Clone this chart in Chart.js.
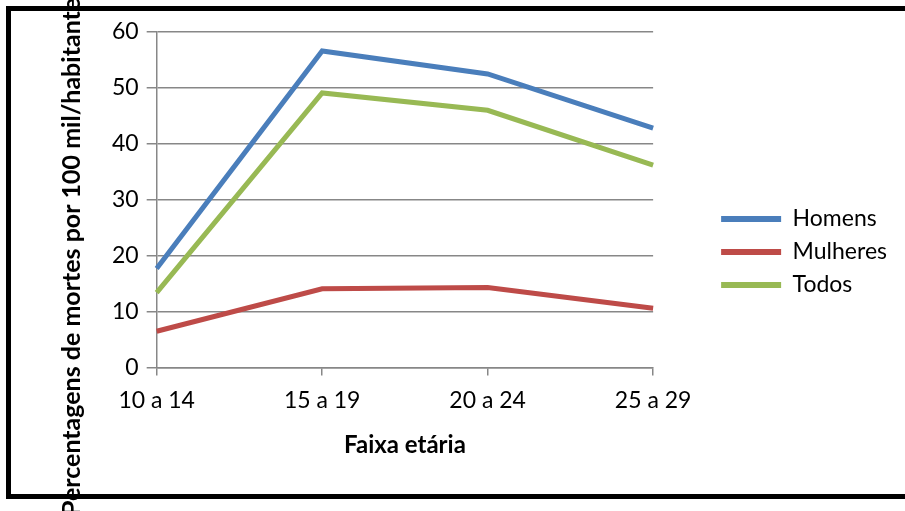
<!DOCTYPE html>
<html>
<head>
<meta charset="utf-8">
<script src="https://cdn.jsdelivr.net/npm/chart.js@4/dist/chart.umd.min.js"></script>
<style>
  html, body { margin: 0; padding: 0; background: #fff; }
  canvas { display: block; }
</style>
</head>
<body>
<canvas id="grafico" width="905" height="511"></canvas>
<script>
// faixas etarias e taxas (mortes por 100 mil habitantes)
var faixas = ['10 a 14', '15 a 19', '20 a 24', '25 a 29'];
var homens = [17.7, 56.6, 52.5, 42.8];
var mulheres = [6.5, 14.1, 14.3, 10.6];
var todos = [13.4, 49.1, 46.0, 36.2];
var yTicks = [0, 10, 20, 30, 40, 50, 60];

var TITULO_Y = 'Percentagens de mortes por 100 mil/habitantes';
var TITULO_X = 'Faixa etária';

var cinza = '#878787';

// moldura preta e titulo vertical do eixo y
var moldura = {
    id: 'moldura',
    afterDraw: function(chart) {
        var ctx = chart.ctx;
        ctx.save();
        ctx.strokeStyle = '#000';
        ctx.lineWidth = 5;
        ctx.strokeRect(8.5, 8.5, 1000, 488);

        ctx.translate(72, 516);
        ctx.rotate(-Math.PI / 2);
        ctx.fillStyle = '#000';
        ctx.font = 'bold 25px Lato';
        ctx.textAlign = 'left';
        ctx.textBaseline = 'middle';
        ctx.fillText(TITULO_Y, 0, 0);
        ctx.restore();
    }
};

function serie(nome, valores, cor) {
    return {
        label: nome,
        data: valores,
        borderColor: cor,
        backgroundColor: cor,
        borderWidth: 5,
        pointRadius: 0,
        fill: false,
        tension: 0
    };
}

var ctx = document.getElementById('grafico').getContext('2d');

new Chart(ctx, {
    type: 'line',
    data: {
        labels: faixas,
        datasets: [
            serie('Homens', homens, '#4A7EBB'),
            serie('Mulheres', mulheres, '#BE4B48'),
            serie('Todos', todos, '#98B954')
        ]
    },
    options: {
        responsive: false,
        devicePixelRatio: 1,
        animation: false,
        layout: {
            padding: { top: 32, bottom: 39, left: 104, right: 8 }
        },
        plugins: {
            tooltip: { enabled: false },
            legend: {
                position: 'right',
                maxWidth: 300,
                labels: {
                    boxWidth: 60,
                    boxHeight: 6,
                    padding: 10,
                    color: '#000',
                    font: { family: 'Lato', size: 23, lineHeight: '26px' },
                    generateLabels: function(chart) {
                        return Chart.defaults.plugins.legend.labels.generateLabels(chart).map(function(l) {
                            l.lineWidth = 0;
                            return l;
                        });
                    }
                }
            }
        },
        scales: {
            x: {
                offset: false,
                grid: {
                    drawOnChartArea: false,
                    drawTicks: true,
                    tickLength: 8,
                    color: cinza,
                    lineWidth: 1.5
                },
                border: { color: cinza, width: 1.5 },
                ticks: {
                    color: '#000',
                    padding: 11,
                    maxRotation: 0,
                    font: { family: 'Lato', size: 23 }
                },
                title: {
                    display: true,
                    text: TITULO_X,
                    color: '#000',
                    font: { family: 'Lato', size: 24, weight: 'bold' },
                    padding: { top: 6, bottom: 12 }
                }
            },
            y: {
                min: yTicks[0],
                max: yTicks[yTicks.length - 1],
                afterBuildTicks: function(scale) {
                    scale.ticks = yTicks.map(function(v) { return { value: v }; });
                },
                grid: {
                    color: cinza,
                    lineWidth: 1.5,
                    tickLength: 10
                },
                border: { color: cinza, width: 1.5 },
                ticks: {
                    color: '#000',
                    padding: 8,
                    font: { family: 'Lato', size: 23 }
                }
            },
            // espaco entre a area do grafico e a legenda
            folga: {
                type: 'linear',
                position: 'right',
                display: true,
                grid: { display: false },
                border: { display: false },
                ticks: { display: false },
                afterFit: function(scale) { scale.width = 58; }
            }
        }
    },
    plugins: [moldura]
});
</script>
</body>
</html>
